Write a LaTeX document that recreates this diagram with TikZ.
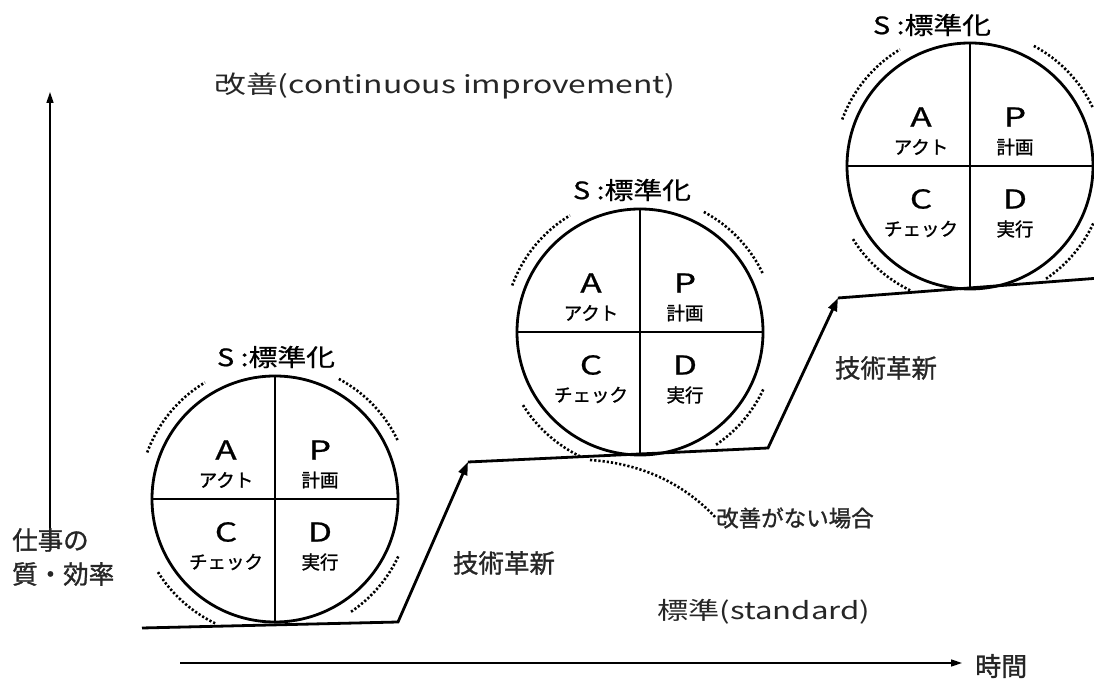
\documentclass[tikz,border=0pt]{standalone}
\usepackage{fontspec}
\setmainfont{Noto Sans CJK JP}[FakeBold=1.2]
\newfontfamily\jpmed[FakeBold=1.2]{Noto Sans CJK JP}
\newfontfamily\jpwide[FakeStretch=1.2,FakeBold=0.8]{Noto Sans CJK JP}
\newfontfamily\jpletter[FakeStretch=1.35,FakeBold=0.8]{Noto Sans CJK JP}
\newfontfamily\jpwider[FakeStretch=1.3]{Noto Sans CJK JP}
\usetikzlibrary{arrows.meta}
\tikzset{
  pdcaring/.style={circle, draw, line width=2.8pt, minimum size=246pt, inner sep=0pt},
  divider/.style={line width=2.8pt},
  bigletter/.style={inner sep=0pt, font=\jpletter\fontsize{26}{26}\selectfont},
  smalltext/.style={inner sep=0pt, font=\jpmed\fontsize{18.5}{18.5}\selectfont},
  stdlabel/.style={inner sep=0pt, font=\jpwide\fontsize{24}{24}\selectfont},
  dotarc/.style={line width=2.6pt, dash pattern=on 2.2pt off 2pt},
  stepline/.style={line width=2.8pt, line join=miter},
  steptip/.style={-{Triangle[length=13pt,width=9pt]}},
  axis/.style={line width=1.5pt, -{Triangle[length=11pt,width=7pt]}},
  plain/.style={inner sep=0pt, text=black!85},
}
\newcommand\pdcacircle[4]{%
  \begin{scope}[shift={(#2,#3)}]
    \node[pdcaring] (#1) at (0,0) {};
    \draw[divider] (#1.north) -- (#1.south);
    \draw[divider] (#1.west) -- (#1.east);
    \node[bigletter] (#1A) at (-49,49) {A};
    \node[smalltext] (#1a) at (-49,19) {アクト};
    \node[bigletter] (#1P) at (45,49) {P};
    \node[smalltext] (#1p) at (45,19) {計画};
    \node[bigletter] (#1C) at (-49,-33) {C};
    \node[smalltext] (#1c) at (-49,-63) {チェック};
    \node[bigletter] (#1D) at (45,-33) {D};
    \node[smalltext] (#1d) at (45,-63) {実行};
    \draw[dotarc] (160:136) arc[start angle=160,end angle=121,radius=136];
    \draw[dotarc] (62:136) arc[start angle=62,end angle=25,radius=136];
    \draw[dotarc] (-25:136) arc[start angle=-25,end angle=-56,radius=136];
    \draw[dotarc] (212:138) arc[start angle=212,end angle=245,radius=138];
  \end{scope}
  \node[stdlabel] (#1S) at (#4) {S :標準化};
}
\begin{document}
\begin{tikzpicture}[x=1pt,y=1pt]
  \clip (0,0) rectangle (1094,682);
  \fill[white] (0,0) rectangle (1094,682);

  % axes
  \coordinate (yaxis0) at (50,144);
  \coordinate (yaxis1) at (50,590);
  \coordinate (xaxis0) at (180,19);
  \coordinate (xaxis1) at (962,19);
  \draw[axis] (yaxis0) -- (yaxis1);
  \draw[axis] (xaxis0) -- (xaxis1);
  \node[plain, anchor=west, font=\jpmed\fontsize{26}{26}\selectfont] (time) at (975,16) {時間};
  \node[plain, anchor=west, font=\jpmed\fontsize{25.5}{25.5}\selectfont] (qual1) at (12,142) {仕事の};
  \node[plain, anchor=west, font=\jpmed\fontsize{25.5}{25.5}\selectfont] (qual2) at (12,108) {質・効率};

  % step line
  \coordinate (b0) at (142,54);
  \coordinate (b1) at (398,60);
  \coordinate (b2) at (468,220);
  \coordinate (b3) at (768,234);
  \coordinate (b4) at (838,384);
  \coordinate (b5) at (1100,404);
  \draw[stepline, steptip] (b0) -- (b1) -- (b2);
  \draw[stepline, steptip] (b2) -- (b3) -- (b4);
  \draw[stepline] (b4) -- (b5);

  % PDCA circles
  \pdcacircle{cyc1}{275}{183}{276,325}
  \pdcacircle{cyc2}{640}{350}{632,492}
  \pdcacircle{cyc3}{970}{516}{932,657}

  % no improvement
  \coordinate (noimp0) at (590,222);
  \node[plain, anchor=west, font=\jpmed\fontsize{22.5}{22.5}\selectfont] (noimp) at (716,164) {改善がない場合};
  \draw[dotarc] (noimp0) .. controls (650,218) and (690,192) .. (noimp.west);

  % labels
  \node[plain, font=\jpwider\fontsize{24.5}{24.5}\selectfont] (kaizen) at (445,596) {改善(continuous improvement)};
  \node[plain, font=\jpwider\fontsize{24}{24}\selectfont] (hyojun) at (764,70) {標準(standard)};
  \node[plain, font=\jpmed\fontsize{25.5}{25.5}\selectfont] (inno1) at (504,119) {技術革新};
  \node[plain, font=\jpmed\fontsize{25.5}{25.5}\selectfont] (inno2) at (886,314) {技術革新};
\end{tikzpicture}
\end{document}
